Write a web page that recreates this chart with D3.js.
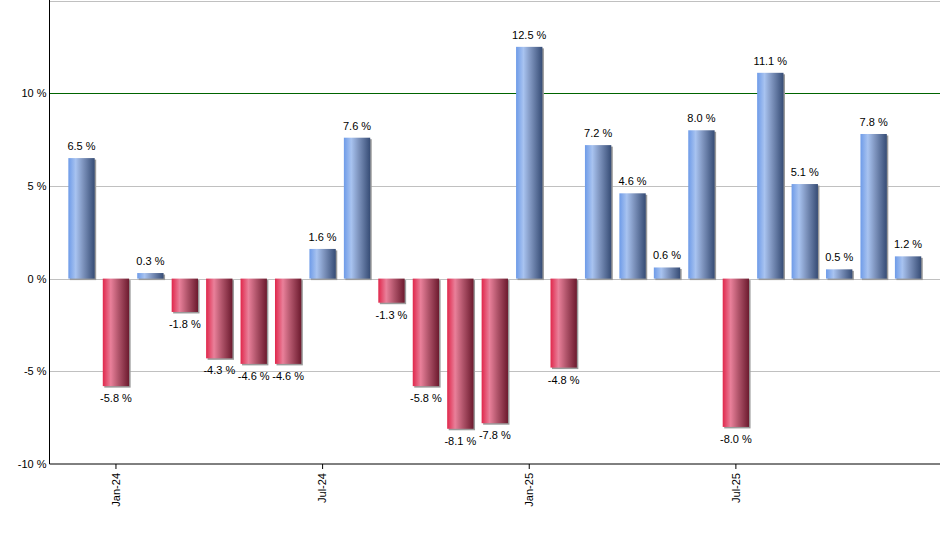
<!DOCTYPE html>
<html>
<head>
<meta charset="utf-8">
<script src="https://cdn.jsdelivr.net/npm/d3@7"></script>
<style>
  body { margin: 0; background: #fff; }
  svg { display: block; font-family: "Liberation Sans", Arial, sans-serif; }
</style>
</head>
<body>
<div id="viz"><svg></svg></div>
<script>
const fullWidth = 940;
const fullHeight = 550;

// data
const months = ['Dec-23', 'Jan-24', 'Feb-24', 'Mar-24', 'Apr-24', 'May-24', 'Jun-24',
  'Jul-24', 'Aug-24', 'Sep-24', 'Oct-24', 'Nov-24', 'Dec-24', 'Jan-25', 'Feb-25',
  'Mar-25', 'Apr-25', 'May-25', 'Jun-25', 'Jul-25', 'Aug-25', 'Sep-25', 'Oct-25',
  'Nov-25', 'Dec-25'];
const values = [6.5, -5.8, 0.3, -1.8, -4.3, -4.6, -4.6, 1.6, 7.6, -1.3, -5.8, -8.1,
  -7.8, 12.5, -4.8, 7.2, 4.6, 0.6, 8.0, -8.0, 11.1, 5.1, 0.5, 7.8, 1.2];
const yTicks = [-10, -5, 0, 5, 10, 15];
const xTickLabels = ['Jan-24', 'Jul-24', 'Jan-25', 'Jul-25'];

const plot = { left: 49.5, right: 940, top: 0.5, bottom: 464 };

const data = months.map((m, i) => ({ month: m, value: values[i] }));

const x = d3.scaleBand()
  .domain(months)
  .range([64.3, 925.3])
  .paddingInner(0.235)
  .paddingOuter(0.1175);

const y = d3.scaleLinear()
  .domain([-10, 15])
  .range([plot.bottom, plot.top]);

const svg = d3.select('#viz svg')
  .attr('width', fullWidth)
  .attr('height', fullHeight);

const defs = svg.append('defs');

function addGradient(id, stops) {
  const g = defs.append('linearGradient')
    .attr('id', id)
    .attr('x1', '0%').attr('x2', '100%')
    .attr('y1', '0%').attr('y2', '0%');
  g.selectAll('stop')
    .data(stops)
    .enter().append('stop')
    .attr('offset', d => d[0])
    .attr('stop-color', d => d[1]);
}

addGradient('blueGrad', [['0%', '#6e9be8'], ['28%', '#a8c3f0'], ['55%', '#7f95bf'], ['100%', '#364c75']]);
addGradient('redGrad', [['0%', '#e0274b'], ['30%', '#e9809a'], ['60%', '#b0546a'], ['100%', '#6c1a2e']]);

// labels use a plain hyphen, like the original
const fmt = v => v.toFixed(1) + ' %';

// grid lines
svg.append('g')
  .selectAll('line')
  .data(yTicks.filter(t => t !== -10))
  .enter().append('line')
  .attr('x1', plot.left)
  .attr('x2', plot.right)
  .attr('y1', d => Math.round(y(d)) + 0.5)
  .attr('y2', d => Math.round(y(d)) + 0.5)
  .attr('stroke', d => d === 10 ? '#006400' : '#c0c0c0')
  .attr('stroke-width', 1);

// bar shadows
svg.append('g')
  .selectAll('rect')
  .data(data)
  .enter().append('rect')
  .attr('x', d => x(d.month) + 1.5)
  .attr('y', d => Math.min(y(d.value), y(0)) + 1.5)
  .attr('width', x.bandwidth())
  .attr('height', d => Math.abs(y(d.value) - y(0)))
  .attr('fill', '#9a9a9a');

// bars
svg.append('g')
  .selectAll('rect')
  .data(data)
  .enter().append('rect')
  .attr('x', d => x(d.month))
  .attr('y', d => Math.min(y(d.value), y(0)))
  .attr('width', x.bandwidth())
  .attr('height', d => Math.abs(y(d.value) - y(0)))
  .attr('fill', d => d.value >= 0 ? 'url(#blueGrad)' : 'url(#redGrad)');

// value labels
svg.append('g')
  .selectAll('text')
  .data(data)
  .enter().append('text')
  .attr('x', d => x(d.month) + x.bandwidth() / 2)
  .attr('y', d => d.value >= 0 ? y(d.value) - 8 : y(d.value) + 16)
  .attr('text-anchor', 'middle')
  .attr('font-size', '11px')
  .attr('fill', '#000')
  .text(d => fmt(d.value));

// y axis
const yAxis = svg.append('g')
  .attr('transform', `translate(${plot.left},0)`)
  .call(d3.axisLeft(y).tickValues(yTicks.filter(t => t !== 15)).tickSize(0).tickPadding(3)
    .tickFormat(d => d + ' %'));
yAxis.select('.domain').remove();
yAxis.selectAll('text')
  .attr('font-size', '11px')
  .attr('font-family', '"Liberation Sans", Arial, sans-serif')
  .attr('fill', '#000');

svg.append('line')
  .attr('x1', plot.left).attr('x2', plot.left)
  .attr('y1', 0).attr('y2', plot.bottom)
  .attr('stroke', '#000');

// x axis
const xAxis = svg.append('g')
  .attr('transform', `translate(0,${plot.bottom})`)
  .call(d3.axisBottom(x).tickValues(xTickLabels).tickSize(5).tickPadding(4));
xAxis.select('.domain').remove();
xAxis.selectAll('.tick line').attr('stroke', '#000');
xAxis.selectAll('text')
  .attr('font-size', '11px')
  .attr('font-family', '"Liberation Sans", Arial, sans-serif')
  .attr('fill', '#000')
  .attr('text-anchor', 'end')
  .attr('transform', 'rotate(-90)')
  .attr('x', -9)
  .attr('y', 0)
  .attr('dy', '0.35em');

svg.append('line')
  .attr('x1', plot.left).attr('x2', plot.right)
  .attr('y1', plot.bottom).attr('y2', plot.bottom)
  .attr('stroke', '#000');
</script>
</body>
</html>
